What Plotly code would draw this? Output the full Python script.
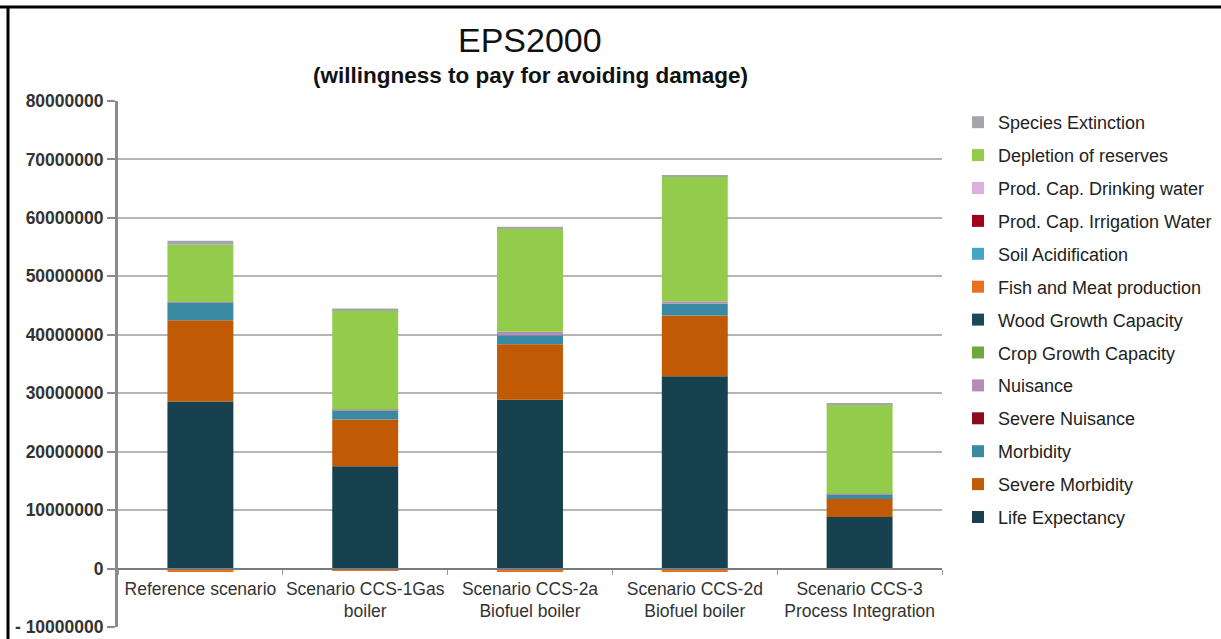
import plotly.graph_objects as go

# Scenario names shown on the category axis
scenarios = [
    "Reference scenario",
    "Scenario CCS-1Gas<br>boiler",
    "Scenario CCS-2a<br>Biofuel boiler",
    "Scenario CCS-2d<br>Biofuel boiler",
    "Scenario CCS-3<br>Process Integration",
]

# Damage cost per impact category (stacked bottom to top)
life_expectancy = [28600000, 17500000, 28900000, 32900000, 8800000]
severe_morbidity = [13900000, 8000000, 9500000, 10400000, 3100000]
morbidity = [3000000, 1600000, 1500000, 2000000, 800000]
severe_nuisance = [0, 0, 0, 0, 0]
nuisance = [100000, 100000, 600000, 400000, 100000]
crop_growth = [0, 0, 0, 0, 0]
wood_growth = [0, 0, 0, 0, 0]
fish_meat = [-600000, -400000, -600000, -600000, 0]
soil_acid = [0, 0, 0, 0, 0]
irrigation_water = [0, 0, 0, 0, 0]
drinking_water = [0, 0, 0, 0, 0]
depletion = [9800000, 17000000, 17700000, 21300000, 15300000]
species_extinction = [700000, 300000, 300000, 300000, 200000]

series = [
    ("Life Expectancy", life_expectancy, "#17414e"),
    ("Severe Morbidity", severe_morbidity, "#c05a04"),
    ("Morbidity", morbidity, "#3a8aa3"),
    ("Severe Nuisance", severe_nuisance, "#8c0a1e"),
    ("Nuisance", nuisance, "#b48cb4"),
    ("Crop Growth Capacity", crop_growth, "#6ea83c"),
    ("Wood Growth Capacity", wood_growth, "#1a4a58"),
    ("Fish and Meat production", fish_meat, "#ea7020"),
    ("Soil Acidification", soil_acid, "#44a6c6"),
    ("Prod. Cap. Irrigation Water", irrigation_water, "#a00020"),
    ("Prod. Cap. Drinking water", drinking_water, "#deaede"),
    ("Depletion of reserves", depletion, "#92cc4a"),
    ("Species Extinction", species_extinction, "#a3a6aa"),
]

y_ticks = [-10000000, 0, 10000000, 20000000, 30000000, 40000000,
           50000000, 60000000, 70000000, 80000000]
y_tick_text = ["- 10000000", "0", "10000000", "20000000", "30000000",
               "40000000", "50000000", "60000000", "70000000", "80000000"]

fig = go.Figure()
n = len(series)
for i, (name, vals, color) in enumerate(series):
    # legend lists the top of the stack first
    fig.add_trace(go.Bar(
        x=scenarios, y=vals, name=name, legendgroup=name,
        legendrank=n - i,
        marker=dict(color=color, line=dict(width=0)),
    ))

FONT = "Liberation Sans, Arial, sans-serif"

fig.update_layout(
    width=1221, height=639,
    barmode="relative", bargap=0.6,
    plot_bgcolor="white", paper_bgcolor="white",
    margin=dict(l=118, r=279, t=101, b=12),
    font=dict(family=FONT, color="#333333"),
    legend=dict(
        xref="container", yref="container",
        x=958 / 1221, y=1 - 104 / 639, xanchor="left", yanchor="top",
        traceorder="grouped", tracegroupgap=6.5, maxheight=600,
        font=dict(family=FONT, size=18, color="#222222"),
        itemwidth=30,
    ),
    xaxis=dict(
        anchor="free", position=1 / 9, automargin=False,
        showline=True, linecolor="#7a7a7a", linewidth=2,
        ticks="outside", tickson="boundaries", ticklen=5, tickcolor="#999999",
        tickfont=dict(family=FONT, size=17.5, color="#333333"),
        tickangle=0, ticklabelstandoff=4,
        showgrid=False,
    ),
    yaxis=dict(
        range=[-10000000, 80000000], automargin=False,
        tickvals=y_ticks, ticktext=y_tick_text,
        showline=True, linecolor="#8a8a8a", linewidth=3,
        ticks="outside", ticklen=8, tickcolor="#8a8a8a", tickwidth=2,
        tickfont=dict(family=FONT, size=17.5, color="#333333", weight="bold"),
        showgrid=True, gridcolor="#b5b5b5", gridwidth=2,
        zeroline=True, zerolinecolor="#6e6e6e", zerolinewidth=2,
    ),
    annotations=[
        dict(text="EPS2000", xref="paper", yref="paper", x=0.5, y=1,
             yshift=61, xanchor="center", yanchor="middle", showarrow=False,
             font=dict(family=FONT, size=34, color="#111111")),
        dict(text="(willingness to pay for avoiding damage)", xref="paper",
             yref="paper", x=0.5, y=1, yshift=26, xanchor="center",
             yanchor="middle", showarrow=False,
             font=dict(family=FONT, size=22.5, color="#111111", weight="bold")),
    ],
    shapes=[
        dict(type="line", xref="paper", yref="paper", x0=-118 / 824, x1=2,
             y0=1 + 94 / 526, y1=1 + 94 / 526, line=dict(color="black", width=3)),
        dict(type="line", xref="paper", yref="paper", x0=-110 / 824, x1=-110 / 824,
             y0=1 + 94 / 526, y1=-1, line=dict(color="black", width=3)),
    ],
)

fig.write_html("out.html")
